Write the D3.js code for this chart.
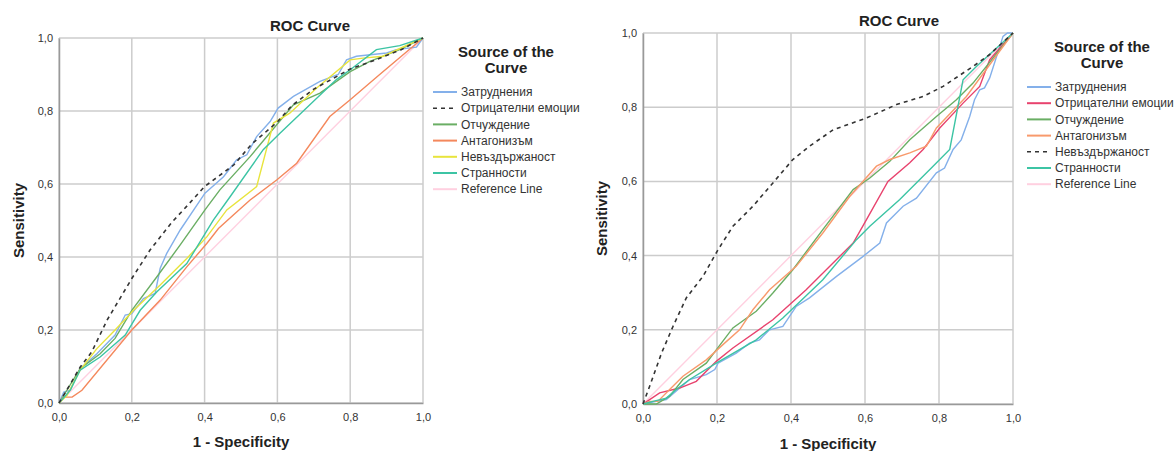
<!DOCTYPE html>
<html>
<head>
<meta charset="utf-8">
<script src="https://cdn.jsdelivr.net/npm/d3@7"></script>
<style>
  body { margin: 0; background: #fff; }
  svg { font-family: "Liberation Sans", Arial, sans-serif; }
</style>
</head>
<body>
<div id="chart"></div>
<script>
// ---- data ----
const tickValues = [0, 0.2, 0.4, 0.6, 0.8, 1.0];

// left chart
const leftZatrudneniya = [[0,0],[0.013,0.03],[0.031,0.035],[0.058,0.094],[0.104,0.135],[0.154,0.186],[0.182,0.241],[0.2,0.245],[0.232,0.286],[0.264,0.3],[0.278,0.369],[0.296,0.41],[0.333,0.474],[0.401,0.575],[0.452,0.62],[0.488,0.666],[0.516,0.68],[0.543,0.73],[0.58,0.771],[0.602,0.808],[0.644,0.84],[0.717,0.881],[0.767,0.9],[0.79,0.94],[0.817,0.95],[0.9,0.959],[0.927,0.968],[0.982,0.975],[1,1]];
const leftOtricatelni = [[0,0],[0.03,0.05],[0.058,0.098],[0.09,0.14],[0.132,0.227],[0.2,0.341],[0.25,0.419],[0.31,0.495],[0.35,0.538],[0.4,0.593],[0.48,0.652],[0.53,0.71],[0.6,0.77],[0.64,0.815],[0.7,0.86],[0.8,0.915],[0.87,0.94],[0.94,0.968],[1,1]];
const leftOtchuzhdenie = [[0,0],[0.058,0.094],[0.113,0.135],[0.154,0.177],[0.2,0.254],[0.269,0.346],[0.333,0.433],[0.401,0.529],[0.442,0.584],[0.525,0.675],[0.644,0.817],[0.717,0.849],[0.8,0.908],[0.854,0.936],[0.936,0.968],[1,1]];
const leftAntagonizam = [[0,0],[0.013,0.016],[0.036,0.016],[0.063,0.035],[0.2,0.2],[0.278,0.282],[0.351,0.373],[0.406,0.437],[0.438,0.478],[0.479,0.515],[0.525,0.556],[0.598,0.611],[0.653,0.657],[0.744,0.785],[0.8,0.831],[0.881,0.9],[1,1]];
const leftNevazdarzhanost = [[0,0],[0.022,0.021],[0.058,0.09],[0.104,0.149],[0.154,0.2],[0.205,0.254],[0.278,0.323],[0.351,0.396],[0.406,0.455],[0.461,0.529],[0.543,0.593],[0.589,0.767],[0.634,0.794],[0.708,0.863],[0.8,0.94],[0.835,0.945],[0.89,0.95],[1,1]];
const leftStrannosti = [[0,0],[0.031,0.035],[0.058,0.09],[0.113,0.126],[0.182,0.186],[0.223,0.254],[0.269,0.305],[0.351,0.382],[0.424,0.501],[0.47,0.565],[0.561,0.694],[0.607,0.739],[0.762,0.886],[0.8,0.913],[0.872,0.968],[0.936,0.979],[1,1]];

// right chart
const rightZatrudneniya = [[0,0],[0.036,0.007],[0.063,0.012],[0.126,0.066],[0.171,0.079],[0.194,0.093],[0.203,0.11],[0.252,0.137],[0.288,0.164],[0.315,0.173],[0.342,0.2],[0.378,0.209],[0.414,0.263],[0.45,0.286],[0.523,0.344],[0.595,0.398],[0.64,0.434],[0.658,0.488],[0.703,0.533],[0.739,0.555],[0.793,0.623],[0.815,0.636],[0.838,0.686],[0.86,0.712],[0.883,0.775],[0.896,0.82],[0.91,0.847],[0.923,0.852],[0.937,0.879],[0.95,0.919],[0.973,0.991],[0.985,1],[1,1]];
const rightOtricatelni = [[0,0],[0.018,0.012],[0.045,0.03],[0.099,0.043],[0.144,0.061],[0.198,0.115],[0.243,0.151],[0.351,0.227],[0.441,0.308],[0.568,0.434],[0.604,0.497],[0.662,0.6],[0.721,0.65],[0.757,0.686],[0.802,0.744],[0.865,0.811],[0.91,0.856],[0.937,0.928],[1,1]];
const rightOtchuzhdenie = [[0,0],[0.036,0],[0.072,0.021],[0.108,0.066],[0.171,0.11],[0.198,0.146],[0.243,0.205],[0.306,0.25],[0.351,0.299],[0.405,0.362],[0.486,0.47],[0.568,0.578],[0.613,0.609],[0.667,0.654],[0.721,0.712],[0.793,0.775],[0.847,0.82],[0.892,0.865],[1,1]];
const rightAntagonizam = [[0,0],[0.018,0.007],[0.04,0.007],[0.072,0.039],[0.108,0.075],[0.171,0.119],[0.216,0.16],[0.261,0.2],[0.297,0.254],[0.342,0.308],[0.414,0.371],[0.486,0.461],[0.559,0.56],[0.631,0.641],[0.667,0.659],[0.721,0.677],[0.766,0.695],[0.793,0.744],[0.874,0.829],[1,1]];
const rightNevazdarzhanost = [[0,0],[0.018,0.048],[0.05,0.137],[0.081,0.209],[0.117,0.286],[0.162,0.344],[0.203,0.416],[0.243,0.479],[0.297,0.533],[0.347,0.591],[0.405,0.659],[0.45,0.695],[0.514,0.739],[0.604,0.771],[0.685,0.807],[0.757,0.829],[0.811,0.856],[0.892,0.91],[0.937,0.942],[1,1]];
const rightStrannosti = [[0,0],[0.027,0.007],[0.063,0.016],[0.09,0.039],[0.126,0.066],[0.198,0.11],[0.306,0.173],[0.378,0.232],[0.486,0.335],[0.577,0.443],[0.613,0.479],[0.694,0.551],[0.784,0.641],[0.829,0.686],[0.865,0.874],[0.901,0.91],[1,1]];

const referenceLine = [[0,0],[1,1]];

const colors = {
  blue: "#84b0ea", red: "#e8436e", green: "#6aae64", orange: "#f4885c",
  yellow: "#e8e43c", teal: "#3cc4a4", pink: "#ffd0e0", dash: "#333333"
};

const leftSeries = [
  { name: "Затруднения", values: leftZatrudneniya, color: colors.blue },
  { name: "Отрицателни емоции", values: leftOtricatelni, color: colors.dash, dashed: true },
  { name: "Отчуждение", values: leftOtchuzhdenie, color: colors.green },
  { name: "Антагонизъм", values: leftAntagonizam, color: colors.orange },
  { name: "Невъздържаност", values: leftNevazdarzhanost, color: colors.yellow },
  { name: "Странности", values: leftStrannosti, color: colors.teal },
  { name: "Reference Line", values: referenceLine, color: colors.pink, ref: true }
];

const rightSeries = [
  { name: "Затруднения", values: rightZatrudneniya, color: colors.blue },
  { name: "Отрицателни емоции", values: rightOtricatelni, color: colors.red },
  { name: "Отчуждение", values: rightOtchuzhdenie, color: colors.green },
  { name: "Антагонизъм", values: rightAntagonizam, color: "#f89a6c" },
  { name: "Невъздържаност", values: rightNevazdarzhanost, color: colors.dash, dashed: true },
  { name: "Странности", values: rightStrannosti, color: colors.teal },
  { name: "Reference Line", values: referenceLine, color: colors.pink, ref: true }
];

const svg = d3.select("#chart").append("svg")
  .attr("width", 1176)
  .attr("height", 451);

function drawRoc(cfg) {
  const x = d3.scaleLinear().domain([0, 1]).range([cfg.left, cfg.right]);
  const y = d3.scaleLinear().domain([0, 1]).range([cfg.bottom, cfg.top]);
  const g = svg.append("g");

  // grid
  g.selectAll(".vgrid").data(tickValues).enter().append("line")
    .attr("x1", d => x(d)).attr("x2", d => x(d))
    .attr("y1", cfg.top).attr("y2", cfg.bottom)
    .attr("stroke", "#cccccc").attr("stroke-width", 1.5);
  g.selectAll(".hgrid").data(tickValues).enter().append("line")
    .attr("y1", d => y(d)).attr("y2", d => y(d))
    .attr("x1", cfg.left).attr("x2", cfg.right)
    .attr("stroke", "#cccccc").attr("stroke-width", 1.5);

  // axes
  const fmt = d => d3.format(".1f")(d).replace(".", ",");
  const xAxis = g.append("g")
    .attr("transform", `translate(0,${cfg.bottom})`)
    .call(d3.axisBottom(x).tickValues(tickValues).tickFormat(fmt).tickSize(0).tickPadding(10));
  const yAxis = g.append("g")
    .attr("transform", `translate(${cfg.left},0)`)
    .call(d3.axisLeft(y).tickValues(tickValues).tickFormat(fmt).tickSize(0).tickPadding(6));
  [xAxis, yAxis].forEach(a => {
    a.select(".domain").attr("stroke", "#999999").attr("stroke-width", 1.5);
    a.selectAll("text").attr("fill", "#333").style("font-size", "11px")
      .style("font-family", "'Liberation Sans', Arial, sans-serif");
  });

  // curves, reference line underneath
  const line = d3.line().x(d => x(d[0])).y(d => y(d[1]));
  const ordered = cfg.series.filter(s => s.ref).concat(cfg.series.filter(s => !s.ref && !s.dashed), cfg.series.filter(s => s.dashed));
  g.selectAll(".curve").data(ordered).enter().append("path")
    .attr("d", d => line(d.values))
    .attr("fill", "none")
    .attr("stroke", d => d.color)
    .attr("stroke-width", d => d.dashed ? 1.6 : 1.4)
    .attr("stroke-dasharray", d => d.dashed ? "4,4" : null);

  // titles
  g.append("text")
    .attr("x", cfg.titleX).attr("y", cfg.titleY)
    .attr("text-anchor", "middle")
    .style("font-size", "15px").style("font-weight", "bold").attr("fill", "#222")
    .text("ROC Curve");
  g.append("text")
    .attr("transform", `translate(${cfg.yLabelX},${(cfg.top + cfg.bottom) / 2}) rotate(-90)`)
    .attr("text-anchor", "middle")
    .style("font-size", "15px").style("font-weight", "bold").attr("fill", "#222")
    .text("Sensitivity");
  g.append("text")
    .attr("x", (cfg.left + cfg.right) / 2).attr("y", cfg.xLabelY)
    .attr("text-anchor", "middle")
    .style("font-size", "15px").style("font-weight", "bold").attr("fill", "#222")
    .text("1 - Specificity");

  // legend
  const lg = g.append("g");
  ["Source of the", "Curve"].forEach((t, i) => {
    lg.append("text")
      .attr("x", cfg.legendTitleX).attr("y", cfg.legendTitleY + i * 16)
      .attr("text-anchor", "middle")
      .style("font-size", "15px").style("font-weight", "bold").attr("fill", "#222")
      .text(t);
  });
  const items = lg.selectAll(".item").data(cfg.series).enter().append("g")
    .attr("transform", (d, i) => `translate(${cfg.legendX},${cfg.legendY + i * 16.2})`);
  items.append("line")
    .attr("x1", 0).attr("x2", 24)
    .attr("stroke", d => d.color)
    .attr("stroke-width", d => d.dashed ? 1.6 : 2)
    .attr("stroke-dasharray", d => d.dashed ? "4,4" : null);
  items.append("text")
    .attr("x", 28).attr("dy", "0.35em")
    .style("font-size", "12px").attr("fill", "#333")
    .text(d => d.name);
}

drawRoc({
  series: leftSeries,
  left: 59, right: 423, top: 38, bottom: 403,
  titleX: 310, titleY: 31, yLabelX: 24, xLabelY: 447,
  legendTitleX: 506, legendTitleY: 57, legendX: 433, legendY: 92
});

drawRoc({
  series: rightSeries,
  left: 643, right: 1013, top: 33, bottom: 404,
  titleX: 899, titleY: 26, yLabelX: 607, xLabelY: 449,
  legendTitleX: 1102, legendTitleY: 52, legendX: 1027, legendY: 87
});
</script>
</body>
</html>
